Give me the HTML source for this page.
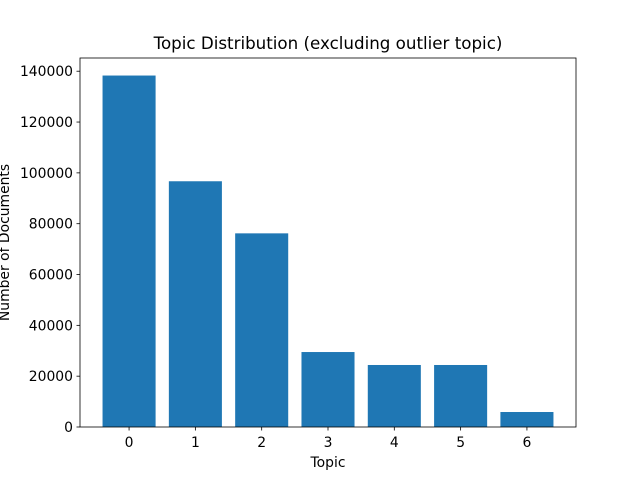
<!DOCTYPE html>
<html><head><meta charset="utf-8"><style>
body{margin:0;background:#fff;font-family:"Liberation Sans","DejaVu Sans",sans-serif;}
svg text{font-family:"DejaVu Sans","Liberation Sans",sans-serif;}
</style></head><body>
<svg id="c" width="640" height="480" xmlns="http://www.w3.org/2000/svg"></svg>
<script>
const categories=["0","1","2","3","4","5","6"];
const counts=[138300,96700,76200,29500,24400,24400,5900];
const yTicks=[0,20000,40000,60000,80000,100000,120000,140000];
const L=80,R=576,T=58,B=427;
const xMin=-0.74,xMax=6.74,yMax=145200;
const xs=v=>L+(v-xMin)/(xMax-xMin)*(R-L);
const ys=v=>B-v/yMax*(B-T);
const svg=document.getElementById('c');
const NS="http://www.w3.org/2000/svg";
function mk(t,a,txt){const e=document.createElementNS(NS,t);for(const k in a)e.setAttribute(k,a[k]);if(txt!==undefined)e.textContent=txt;svg.appendChild(e);return e;}
counts.forEach((v,i)=>{
 const b=mk('rect',{x:xs(i-0.4),y:ys(v),width:xs(i+0.4)-xs(i-0.4),height:B-ys(v),fill:'#1f77b4'});
 
 
});
const ax=mk('rect',{x:L,y:T,width:R-L,height:B-T,fill:'none',stroke:'#000','stroke-width':0.8});


categories.forEach((c,i)=>{
 const x=xs(i);
 mk('line',{x1:x,x2:x,y1:B,y2:B+3.5,stroke:'#000','stroke-width':0.8});
 const t=mk('text',{x:x,y:B+20,'text-anchor':'middle','font-size':13.9},c);
 
 
});
yTicks.forEach(v=>{
 const y=ys(v);
 mk('line',{x1:L-3.5,x2:L,y1:y,y2:y,stroke:'#000','stroke-width':0.8});
 const t=mk('text',{x:L-7,y:y+5,'text-anchor':'end','font-size':13.9},String(v));
 
 
});
const tt=mk('text',{x:(L+R)/2,y:49,'text-anchor':'middle','font-size':16.7},'Topic Distribution (excluding outlier topic)');


const xt=mk('text',{x:(L+R)/2,y:467,'text-anchor':'middle','font-size':13.9},'Topic');


const yt=mk('text',{x:0,y:0,'text-anchor':'middle','font-size':13.9,transform:'translate(9,'+((T+B)/2)+') rotate(-90)'},'Number of Documents');


</script>
</body></html>
